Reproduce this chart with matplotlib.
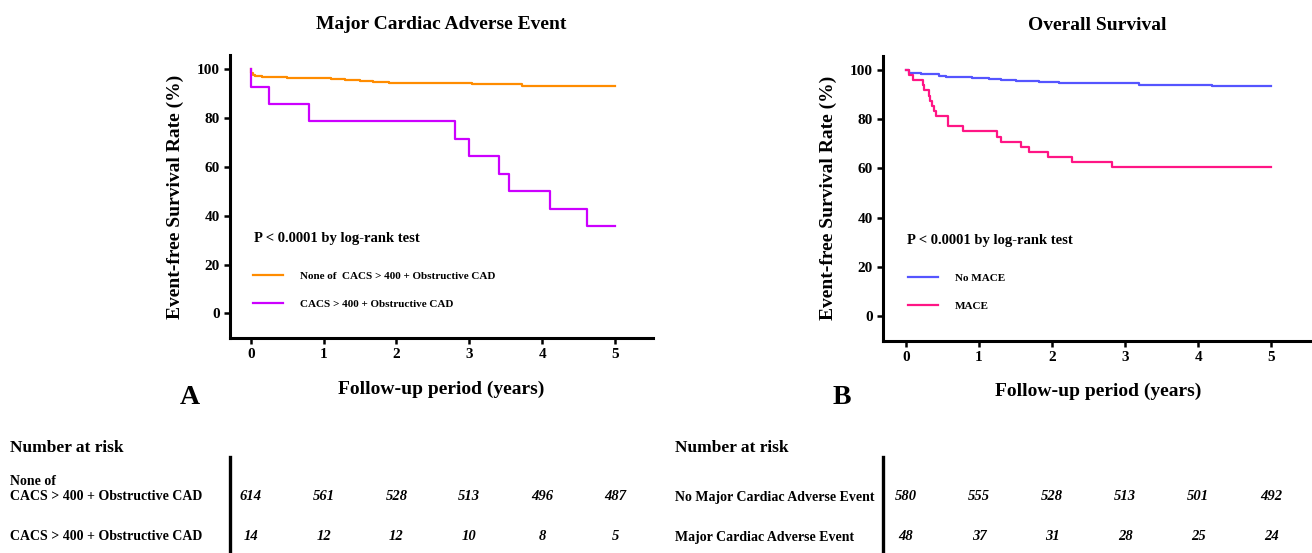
import matplotlib
matplotlib.use("Agg")
import matplotlib.pyplot as plt

plt.rcParams['font.family'] = ['Liberation Serif', 'DejaVu Serif']
plt.rcParams['font.weight'] = 'bold'
plt.rcParams['axes.titleweight'] = 'bold'
plt.rcParams['axes.labelweight'] = 'bold'

# --- data ---
years = [0, 1, 2, 3, 4, 5]

# panel A: MACE
none_t = [0, 0.01, 0.03, 0.06, 0.15, 0.5, 0.77, 1.1, 1.3, 1.5, 1.68, 1.9, 3.04, 3.5, 3.72, 5.0]
none_s = [100, 98.5, 97.7, 97.0, 96.7, 96.5, 96.3, 96.0, 95.6, 95.2, 94.9, 94.5, 94.0, 93.8, 93.3, 93.3]
high_t = [0, 0.01, 0.255, 0.80, 2.81, 2.99, 3.41, 3.55, 4.10, 4.62, 5.0]
high_s = [100, 92.86, 85.71, 78.57, 71.43, 64.29, 57.14, 50.0, 42.86, 35.71, 35.71]

# panel B: overall survival
nomace_t = [0, 0.04, 0.2, 0.45, 0.55, 0.68, 0.9, 1.14, 1.3, 1.5, 1.82, 2.1, 2.41, 3.19, 3.7, 4.19, 4.38, 5.0]
nomace_s = [100, 98.9, 98.4, 97.6, 97.3, 97.0, 96.6, 96.2, 95.8, 95.4, 95.0, 94.8, 94.6, 94.0, 93.8, 93.6, 93.4, 93.4]
mace_t = [0, 0.045, 0.09, 0.23, 0.25, 0.32, 0.33, 0.36, 0.38, 0.41, 0.57, 0.58,
          0.78, 1.25, 1.30, 1.58, 1.69, 1.94, 2.28, 2.82, 5.0]
mace_s = [100, 97.92, 95.83, 93.75, 91.67, 89.58, 87.5, 85.42, 83.33, 81.25, 79.17,
          77.08, 75.0, 72.92, 70.83, 68.75, 66.67, 64.58, 62.5, 60.42, 60.42]

# number at risk
risk_A_labels = ["None of\nCACS > 400 + Obstructive CAD", "CACS > 400 + Obstructive CAD"]
risk_A = [[614, 561, 528, 513, 496, 487], [14, 12, 12, 10, 8, 5]]
risk_B_labels = ["No Major Cardiac Adverse Event", "Major Cardiac Adverse Event"]
risk_B = [[580, 555, 528, 513, 501, 492], [48, 37, 31, 28, 25, 24]]

c_orange = "#FF8C00"
c_purple = "#CC00FF"
c_blue = "#5555FF"
c_pink = "#FF1585"

W, H = 1312, 553
fig = plt.figure(figsize=(13.12, 5.53), dpi=100)


def fx(x):
    return x / W


def fy(y):
    return 1 - y / H


def add_axes(left, right, top, bottom):
    return fig.add_axes([fx(left), fy(bottom), fx(right) - fx(left), fy(top) - fy(bottom)])


def style(ax, xlim, ylim):
    for s in ['top', 'right']:
        ax.spines[s].set_visible(False)
    for s in ['left', 'bottom']:
        ax.spines[s].set_linewidth(2.2)
    ax.tick_params(direction='out', length=4.5, width=1.8, labelsize=11, pad=3)
    ax.set_xlim(*xlim)
    ax.set_ylim(*ylim)
    ax.set_xticks(years)
    ax.set_yticks([0, 20, 40, 60, 80, 100])
    ax.set_ylabel("Event-free Survival Rate (%)", fontsize=14)
    ax.yaxis.set_label_coords(-0.108, 0.5)
    ax.set_xlabel("Follow-up period (years)", fontsize=14)
    ax.xaxis.set_label_coords(0.5, -0.15)


axA = add_axes(230, 653, 55, 338)
axB = add_axes(883.5, 1312, 56, 340.5)
style(axA, (-0.284, 5.52), (-10.1, 105.8))
style(axB, (-0.308, 5.56), (-10.0, 105.7))

axA.step(none_t, none_s, where='post', color=c_orange, lw=1.6,
         label="None of  CACS > 400 + Obstructive CAD")
axA.step(high_t, high_s, where='post', color=c_purple, lw=1.6,
         label="CACS > 400 + Obstructive CAD")
axB.step(nomace_t, nomace_s, where='post', color=c_blue, lw=1.6, label="No MACE")
axB.step(mace_t, mace_s, where='post', color=c_pink, lw=1.6, label="MACE")

axA.set_title("Major Cardiac Adverse Event", fontsize=14, pad=19)
axB.set_title("Overall Survival", fontsize=14, pad=19)

for ax, x0 in [(axA, 0.045), (axB, 0.01)]:
    ax.text(x0, 30.5, "P < 0.0001 by log-rank test", fontsize=10.5, va='center')

axA.legend(loc='upper left', bbox_to_anchor=(0.054, 0.235), frameon=False, fontsize=8,
           borderpad=0, borderaxespad=0, handlelength=2.7, handletextpad=1.5,
           labelspacing=1.6)
axB.legend(loc='upper left', bbox_to_anchor=(0.057, 0.2355), frameon=False, fontsize=8,
           borderpad=0, borderaxespad=0, handlelength=2.7, handletextpad=1.5,
           labelspacing=1.6)

fig.text(fx(190), fy(398), "A", fontsize=20, ha='center', va='center')
fig.text(fx(842), fy(398), "B", fontsize=20, ha='center', va='center')

# number-at-risk tables
tA = add_axes(230, 653, 457, 553)
tB = add_axes(883.5, 1312, 457, 553)
for t, ax, counts in [(tA, axA, risk_A), (tB, axB, risk_B)]:
    t.set_xlim(ax.get_xlim())
    t.set_ylim(1.4, -1.0)
    for s in ['top', 'right', 'bottom']:
        t.spines[s].set_visible(False)
    t.spines['left'].set_linewidth(2.4)
    t.set_xticks([])
    t.set_yticks([])
    t.patch.set_alpha(0)
    for r, row in enumerate(counts):
        for yr, n in zip(years, row):
            t.text(yr, r, str(n), fontsize=10.5, style='italic', ha='center', va='center')

fig.text(fx(10), fy(448), "Number at risk", fontsize=12.5, va='center')
fig.text(fx(675), fy(448), "Number at risk", fontsize=12.5, va='center')
fig.text(fx(10), fy(489), risk_A_labels[0], fontsize=10, va='center', linespacing=1.15)
fig.text(fx(10), fy(537), risk_A_labels[1], fontsize=10, va='center')
fig.text(fx(675), fy(497), risk_B_labels[0], fontsize=10, va='center')
fig.text(fx(675), fy(537), risk_B_labels[1], fontsize=10, va='center')

fig.savefig("out.png", dpi=100)
